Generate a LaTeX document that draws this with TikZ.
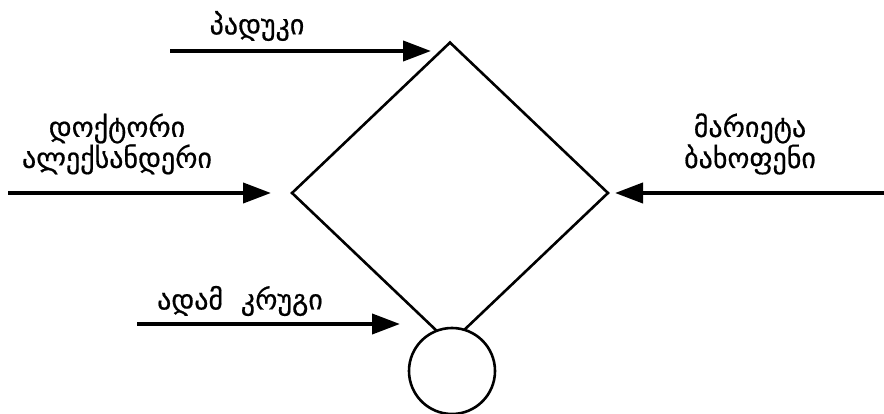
\documentclass[tikz,border=0pt]{standalone}
\usepackage{fontspec}
\newfontfamily\geofont[Script=Georgian,FakeBold=0.6]{DejaVu Sans}
\usetikzlibrary{shapes.geometric,arrows.meta}
\tikzset{
  outline/.style={draw=black, line width=2.6pt},
  flow/.style={line width=4pt, -{Triangle[length=28pt,width=20pt]}},
  lbl/.style={font=\geofont\fontsize{28}{27}\selectfont, align=center, inner sep=0pt}
}
\begin{document}
\begin{tikzpicture}[x=1pt,y=-1pt]
  \useasboundingbox[fill=white] (0,0) rectangle (884,414);
  % central decision shape and its terminal circle
  \node[outline, shape=diamond, minimum width=317pt, minimum height=302pt, inner sep=0pt] (rule) at (450,193) {};
  \node[outline, fill=white, circle, minimum size=86pt, inner sep=0pt] (end) at (452,371) {};
  % incoming flows
  \coordinate (s1) at (170,51);  \coordinate (t1) at (431,51);
  \coordinate (s2) at (8,193);   \coordinate (t2) at (271,193);
  \coordinate (s3) at (884,193); \coordinate (t3) at (615,193);
  \coordinate (s4) at (137,324); \coordinate (t4) at (400,324);
  \draw[flow] (s1) -- (t1);
  \draw[flow] (s2) -- (t2);
  \draw[flow] (s3) -- (t3);
  \draw[flow] (s4) -- (t4);
  % labels
  \node[lbl] (l1) at (257,26) {პადუკი};
  \node[lbl] (l2) at (117,144) {დოქტორი\\ალექსანდერი};
  \node[lbl] (l3) at (750,144) {მარიეტა\\ბახოფენი};
  \node[lbl] (l4) at (240,301) {ადამ\ \ კრუგი};
\end{tikzpicture}
\end{document}
